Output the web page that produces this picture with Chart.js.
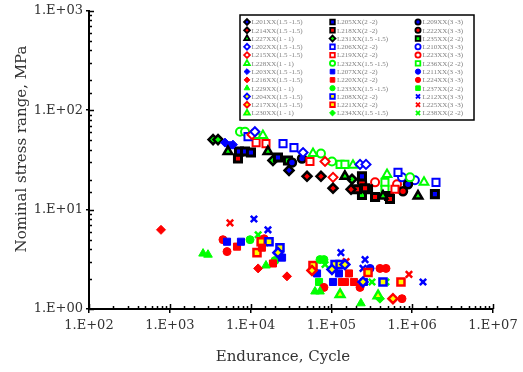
<!DOCTYPE html>
<html>
<head>
<meta charset="utf-8">
<script src="https://cdn.jsdelivr.net/npm/chart.js@4.4.1/dist/chart.umd.min.js"></script>
<style>
  html, body { margin: 0; padding: 0; background: #fff; }
  #wrap { width: 523px; height: 372px; position: relative; }
</style>
</head>
<body>
<div id="wrap"><canvas id="c"></canvas></div>
<script>
// [cycles, MPa]
const L201 = [[29900, 24.8]];
const L214 = [[49900, 21.6], [74300, 21.6], [104700, 16.4], [175000, 16.0]];
const L227 = [[5250, 38.4], [16400, 38.4], [147000, 21.6], [435000, 13.7], [1180000, 13.7]];
const L202 = [[11300, 60.8], [44600, 37.5], [226000, 28.5], [268000, 28.5]];
const L215 = [[10400, 56.7], [83400, 30.5], [104700, 21.1]];
const L228 = [[12000, 55.5], [14200, 55.5], [59200, 36.6], [185000, 27.9], [488000, 22.6], [1400000, 18.8]];
const L203 = [[4820, 47.2], [5560, 44.0], [6050, 45.0]];
const L216 = [[778, 6.26], [12400, 2.56], [28200, 2.13]];
const L229 = [[2580, 3.61], [2970, 3.52], [15500, 2.74], [62700, 1.50], [72300, 1.50], [232000, 1.14]];
const L204 = [[21800, 3.69], [101600, 2.50], [147000, 2.80], [246000, 1.87]];
const L217 = [[57500, 2.44], [578000, 1.27]];
const L230 = [[128000, 1.40], [378000, 1.36]];

const L205 = [[7180, 38.4], [8530, 38.4], [10100, 37.5], [21800, 33.4], [239000, 21.6], [1910000, 14.3]];
const L218 = [[6980, 32.7], [207000, 16.0], [261000, 16.4], [347000, 13.4], [531000, 12.8]];
const L231 = [[3430, 50.6], [3950, 50.6], [18900, 31.2], [180000, 20.2]];
const L206 = [[9290, 54.2], [25200, 46.1], [34400, 42.0], [667000, 23.7], [1970000, 18.8]];
const L219 = [[11700, 47.2], [15500, 46.1], [54300, 30.5], [612000, 16.0]];
const L232 = [[7390, 60.8], [8530, 60.8], [74300, 36.6], [101600, 30.5], [940000, 21.1]];
const L207 = [[5110, 4.75], [7600, 4.75], [24500, 3.29], [66400, 2.28], [124000, 2.28], [104700, 1.87], [253000, 1.87]];
const L220 = [[6790, 4.24], [13800, 4.14], [18900, 2.87], [165000, 2.28], [135000, 1.87], [147000, 1.87], [190000, 1.87]];
const L233 = [[9840, 4.98], [20000, 3.07], [72300, 3.14], [80900, 3.14]];
const L208 = [[16900, 4.75], [23100, 4.14], [111000, 2.80], [128000, 2.80], [435000, 1.87]];
const L221 = [[13500, 4.75], [12000, 3.69], [59200, 2.74], [284000, 2.33], [726000, 1.87]];
const L234 = [[399000, 1.27]];

const L209 = [[32500, 29.8], [43300, 32.7], [887000, 18.0]];
const L222 = [[239000, 18.8], [769000, 15.3]];
const L235 = [[29000, 31.2], [239000, 14.0], [284000, 16.0], [516000, 13.7]];
const L210 = [[748000, 21.1], [1080000, 19.7]];
const L223 = [[347000, 18.8], [649000, 18.0]];
const L236 = [[128000, 28.5], [147000, 28.5], [460000, 18.8], [460000, 16.0]];
const L211 = [[301000, 2.56]];
const L224 = [[4550, 4.98], [5110, 3.78], [14700, 5.09], [80900, 1.65], [226000, 1.65], [399000, 2.56], [474000, 2.56], [748000, 1.27]];
const L237 = [[70300, 1.87]];
const L212 = [[11000, 8.05], [16400, 6.26], [131000, 3.69], [261000, 3.14], [246000, 2.56], [1360000, 1.87]];
const L225 = [[5560, 7.35], [152000, 3.00], [912000, 2.23]];
const L238 = [[12400, 5.58], [15100, 4.64], [83400, 2.80], [318000, 1.87], [474000, 1.87]];

const xTitle = 'Endurance, Cycle';
const yTitle = 'Nominal stress range, MPa';

const BLUE = '#0000ff', RED = '#ff0000', GREEN = '#00ff00', BLACK = '#000000', YELLOW = '#ffff00';

// name, data, suffix, shape, kind, colour  (legend is filled column by column)
const series = [
  ['L201', L201, '1.5 -1.5', 'rectRot', 'black', BLUE],
  ['L214', L214, '1.5 -1.5', 'rectRot', 'black', RED],
  ['L227', L227, '1 - 1', 'triangle', 'black', GREEN],
  ['L202', L202, '1.5 -1.5', 'rectRot', 'hollow', BLUE],
  ['L215', L215, '1.5 -1.5', 'rectRot', 'hollow', RED],
  ['L228', L228, '1 - 1', 'triangle', 'hollow', GREEN],
  ['L203', L203, '1.5 -1.5', 'rectRot', 'filled', BLUE],
  ['L216', L216, '1.5 -1.5', 'rectRot', 'filled', RED],
  ['L229', L229, '1 - 1', 'triangle', 'filled', GREEN],
  ['L204', L204, '1.5 -1.5', 'rectRot', 'yellow', BLUE],
  ['L217', L217, '1.5 -1.5', 'rectRot', 'yellow', RED],
  ['L230', L230, '1 - 1', 'triangle', 'yellow', GREEN],

  ['L205', L205, '2 -2', 'rect', 'black', BLUE],
  ['L218', L218, '2 -2', 'rect', 'black', RED],
  ['L231', L231, '1.5 -1.5', 'rectRot', 'black', GREEN],
  ['L206', L206, '2 -2', 'rect', 'hollow', BLUE],
  ['L219', L219, '2 -2', 'rect', 'hollow', RED],
  ['L232', L232, '1.5 -1.5', 'circle', 'hollow', GREEN],
  ['L207', L207, '2 -2', 'rect', 'filled', BLUE],
  ['L220', L220, '2 -2', 'rect', 'filled', RED],
  ['L233', L233, '1.5 -1.5', 'circle', 'filled', GREEN],
  ['L208', L208, '2 -2', 'rect', 'yellow', BLUE],
  ['L221', L221, '2 -2', 'rect', 'yellow', RED],
  ['L234', L234, '1.5 -1.5', 'rectRot', 'filled', GREEN],

  ['L209', L209, '3 -3', 'circle', 'black', BLUE],
  ['L222', L222, '3 -3', 'circle', 'black', RED],
  ['L235', L235, '2 -2', 'rect', 'black', GREEN],
  ['L210', L210, '3 -3', 'circle', 'hollow', BLUE],
  ['L223', L223, '3 -3', 'circle', 'hollow', RED],
  ['L236', L236, '2 -2', 'rect', 'hollow', GREEN],
  ['L211', L211, '3 -3', 'circle', 'filled', BLUE],
  ['L224', L224, '3 -3', 'circle', 'filled', RED],
  ['L237', L237, '2 -2', 'rect', 'filled', GREEN],
  ['L212', L212, '3 -3', 'crossRot', 'cross', BLUE],
  ['L225', L225, '3 -3', 'crossRot', 'cross', RED],
  ['L238', L238, '2 -2', 'crossRot', 'cross', GREEN]
];

const RADIUS = { rect: 5, rectRot: 4.5, triangle: 5, circle: 4, crossRot: 4.5 };

function markerStyle(shape, kind, col) {
  const r = RADIUS[shape];
  if (kind === 'black') return { bg: col, border: BLACK, bw: shape === 'rect' ? 3 : 2.5, r: r };
  if (kind === 'hollow') return { bg: '#ffffff', border: col, bw: 2, r: r };
  if (kind === 'yellow') return { bg: YELLOW, border: col, bw: 2.5, r: r };
  if (kind === 'cross') return { bg: col, border: col, bw: 2.5, r: r };
  return { bg: col, border: col, bw: 1, r: r };
}

const datasets = series.map(([name, pts, suffix, shape, kind, col]) => {
  const st = markerStyle(shape, kind, col);
  return {
    label: name + 'XX(' + suffix + ')',
    data: pts.map(p => ({ x: p[0], y: p[1] })),
    pointStyle: shape,
    pointRadius: st.r,
    pointBackgroundColor: st.bg,
    pointBorderColor: st.border,
    pointBorderWidth: st.bw,
    showLine: false
  };
});

function isPow10(v) {
  const l = Math.log10(v);
  return Math.abs(l - Math.round(l)) < 1e-9;
}
function sci(v) {
  const e = Math.round(Math.log10(v));
  return '1.E+' + (e < 10 ? '0' + e : e);
}

// ticks pointing into the plot, long for decades, short for the rest
const innerTicks = {
  id: 'innerTicks',
  afterDraw(chart) {
    const { ctx, chartArea: a, scales: { x, y } } = chart;
    ctx.save();
    ctx.strokeStyle = '#000';
    ctx.lineWidth = 1.5;
    ctx.beginPath();
    x.ticks.forEach(t => {
      const px = Math.round(x.getPixelForValue(t.value)) + 0.5;
      const len = isPow10(t.value) ? 5 : 3;
      ctx.moveTo(px, a.bottom);
      ctx.lineTo(px, a.bottom - len);
    });
    y.ticks.forEach(t => {
      const py = Math.round(y.getPixelForValue(t.value)) + 0.5;
      const len = isPow10(t.value) ? 5 : 3;
      ctx.moveTo(a.left, py);
      ctx.lineTo(a.left + len, py);
    });
    ctx.stroke();
    ctx.restore();
  }
};

// axis titles, sitting a little toward the origin as in the original
const axisTitles = {
  id: 'axisTitles',
  afterDraw(chart) {
    const ctx = chart.ctx;
    ctx.save();
    ctx.fillStyle = '#333';
    ctx.font = '15px "DejaVu Serif", serif';
    ctx.textAlign = 'center';
    ctx.textBaseline = 'middle';
    ctx.fillText(xTitle, 283, 357);
    ctx.translate(22, 149);
    ctx.rotate(-Math.PI / 2);
    ctx.fillText(yTitle, 0, 0);
    ctx.restore();
  }
};

function drawShape(ctx, shape, x, y, r) {
  if (shape === 'circle') {
    ctx.arc(x, y, r, 0, Math.PI * 2);
  } else if (shape === 'rect') {
    const s = r * Math.SQRT1_2;
    ctx.rect(x - s, y - s, 2 * s, 2 * s);
  } else if (shape === 'rectRot') {
    ctx.moveTo(x - r, y); ctx.lineTo(x, y - r); ctx.lineTo(x + r, y); ctx.lineTo(x, y + r); ctx.closePath();
  } else if (shape === 'triangle') {
    ctx.moveTo(x, y - r); ctx.lineTo(x + r * 0.866, y + r * 0.5); ctx.lineTo(x - r * 0.866, y + r * 0.5); ctx.closePath();
  } else if (shape === 'crossRot') {
    const s = r * Math.SQRT1_2;
    ctx.moveTo(x - s, y - s); ctx.lineTo(x + s, y + s);
    ctx.moveTo(x + s, y - s); ctx.lineTo(x - s, y + s);
  }
}

// boxed three-column legend inside the plot
const boxLegend = {
  id: 'boxLegend',
  afterDatasetsDraw(chart) {
    const ctx = chart.ctx;
    const bx = 240, by = 15, bw = 234, bh = 105;
    const colMark = [247, 332.5, 418];
    const rowY0 = 22, rowH = 8.27;
    ctx.save();
    ctx.fillStyle = '#fff';
    ctx.fillRect(bx, by, bw, bh);
    ctx.strokeStyle = '#000';
    ctx.lineWidth = 1.5;
    ctx.strokeRect(bx, by, bw, bh);
    ctx.font = '7px "Liberation Serif", serif';
    ctx.textBaseline = 'middle';
    ctx.textAlign = 'left';
    chart.data.datasets.forEach((ds, i) => {
      const col = Math.floor(i / 12), row = i % 12;
      const mx = colMark[col], my = rowY0 + row * rowH;
      ctx.fillStyle = ds.pointBackgroundColor;
      ctx.strokeStyle = ds.pointBorderColor;
      ctx.lineWidth = Math.min(ds.pointBorderWidth, 1.8);
      ctx.beginPath();
      drawShape(ctx, ds.pointStyle, mx, my, ds.pointRadius * 0.65);
      if (ds.pointStyle !== 'crossRot') ctx.fill();
      ctx.stroke();
      ctx.fillStyle = '#808080';
      ctx.fillText(ds.label, mx + 4.5, my + 0.5);
    });
    ctx.restore();
  }
};

const axisFont = { family: 'DejaVu Serif', size: 13 };

new Chart(document.getElementById('c'), {
  type: 'scatter',
  data: { datasets },
  options: {
    responsive: true,
    maintainAspectRatio: false,
    animation: false,
    layout: { padding: { left: 0, right: 30, top: 8, bottom: 0 } },
    plugins: { legend: { display: false }, tooltip: { enabled: false } },
    scales: {
      x: {
        type: 'logarithmic',
        min: 100,
        max: 1e7,
        border: { display: true, color: '#000', width: 2 },
        grid: {
          drawOnChartArea: false,
          tickLength: 4,
          lineWidth: 1.5,
          color: c => (c.tick && isPow10(c.tick.value)) ? '#000' : 'rgba(0,0,0,0)'
        },
        ticks: {
          autoSkip: false,
          maxRotation: 0,
          padding: 5,
          color: '#333',
          font: axisFont,
          callback: v => isPow10(v) ? sci(v) : ''
        },
        afterFit: s => { s.height = 63; }
      },
      y: {
        type: 'logarithmic',
        min: 1,
        max: 1000,
        border: { display: true, color: '#000', width: 2 },
        grid: {
          drawOnChartArea: false,
          tickLength: 3,
          lineWidth: 1.5,
          color: c => (c.tick && isPow10(c.tick.value)) ? '#000' : 'rgba(0,0,0,0)'
        },
        ticks: {
          autoSkip: false,
          padding: 3,
          color: '#333',
          font: axisFont,
          callback: v => isPow10(v) ? sci(v) : ''
        },
        afterFit: s => { s.width = 89; }
      }
    }
  },
  plugins: [innerTicks, boxLegend, axisTitles]
});
</script>
</body>
</html>
